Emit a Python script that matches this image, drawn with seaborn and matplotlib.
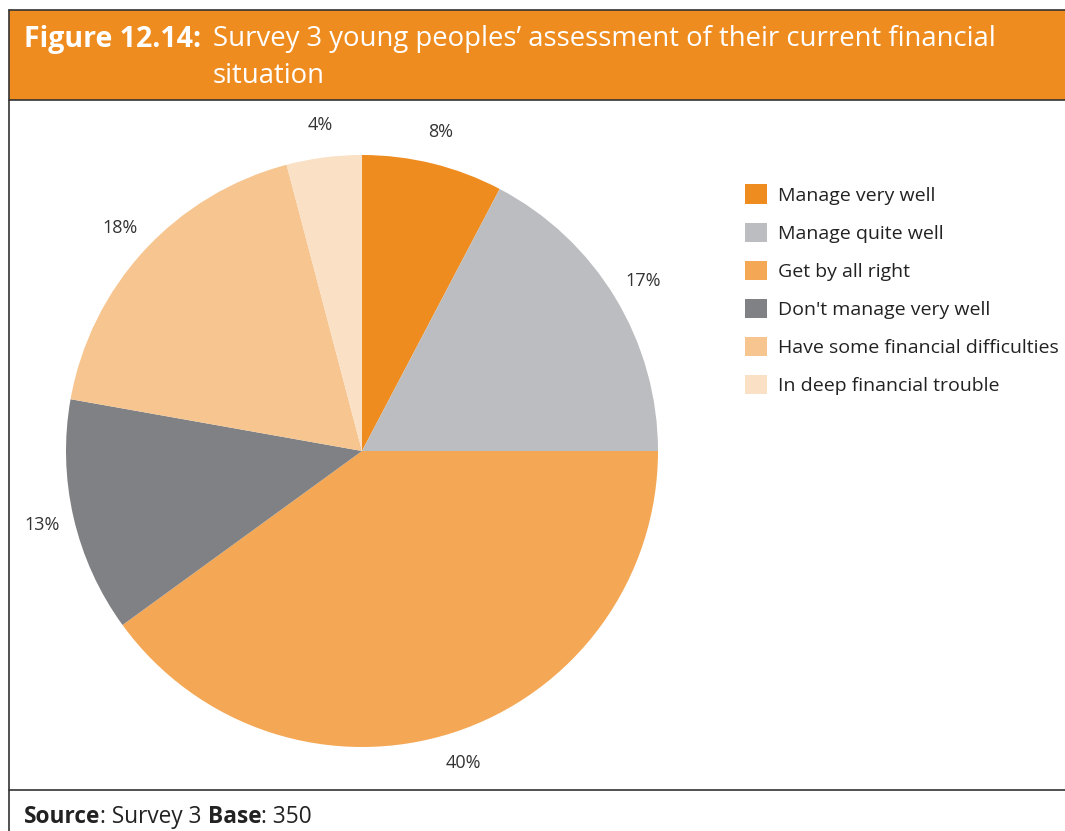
import matplotlib
matplotlib.use("Agg")
import matplotlib.pyplot as plt
import seaborn as sns
from matplotlib.lines import Line2D
from matplotlib.patches import Rectangle

# chart data (shares, labels are rounded)
categories = ["Manage very well", "Manage quite well", "Get by all right",
              "Don't manage very well", "Have some financial difficulties",
              "In deep financial trouble"]
percent = [7.7, 17.3, 40.0, 12.8, 18.1, 4.1]
colours = ["#EF8C1F", "#BCBDC0", "#F4A855", "#808184", "#F7C58F", "#FAE0C5"]

sns.set_theme(style="white")
plt.rcParams["font.family"] = ["Open Sans", "DejaVu Sans"]

W, H = 1065, 831
fig = plt.figure(figsize=(W / 100, H / 100), dpi=100)

def fx(px):
    return px / W

def fy(py):
    return 1 - py / H

# frame and header band
fig.patches.append(Rectangle((fx(9), fy(100)), fx(1065) - fx(9), fy(10) - fy(100),
                             transform=fig.transFigure, facecolor="#EF8C1F",
                             edgecolor="none", zorder=0))
for (x0, y0, x1, y1) in [(9, 10, 1065, 10), (9, 100, 1065, 100),
                         (9, 10, 9, 831), (9, 790, 1065, 790)]:
    fig.add_artist(Line2D([fx(x0), fx(x1)], [fy(y0), fy(y1)],
                          transform=fig.transFigure, color="#333333", lw=1.2))

# title
fig.text(fx(24), fy(39), "Figure 12.14:", color="white", fontsize=20.5,
         fontweight="bold", va="center", ha="left")
fig.text(fx(213), fy(39), "Survey 3 young peoples\u2019 assessment of their current financial",
         color="white", fontsize=19.8, va="center", ha="left")
fig.text(fx(213), fy(76), "situation", color="white", fontsize=19.8,
         va="center", ha="left")

# pie
R = 296
cx, cy = 362, 451
lim = 1.3
ax = fig.add_axes([fx(cx - lim * R), fy(cy + lim * R),
                   2 * lim * R / W, 2 * lim * R / H])
ax.pie(percent, colors=colours, startangle=90, counterclock=False,
       autopct="%.0f%%", pctdistance=1.11,
       textprops=dict(fontsize=13, color="#333333"),
       wedgeprops=dict(linewidth=0))
ax.set_xlim(-lim, lim)
ax.set_ylim(-lim, lim)
ax.set_aspect("equal")
ax.axis("off")

# legend
handles = [Rectangle((0, 0), 1, 1, facecolor=c, edgecolor="none") for c in colours]
fig.legend(handles, categories, loc="upper left",
           bbox_to_anchor=(fx(727), fy(167)), frameon=False, fontsize=14,
           handlelength=1.15, handleheight=1.15, handletextpad=0.55,
           labelspacing=0.92, labelcolor="#222222")

# source line
fig.canvas.draw()
r = fig.canvas.get_renderer()
x = fx(24)
for txt, bold in [("Source", True), (": Survey 3 ", False), ("Base", True), (": 350", False)]:
    t = fig.text(x, fy(817), txt, fontsize=16.3, va="center", ha="left",
                 color="#222222", fontweight="bold" if bold else "normal")
    bb = t.get_window_extent(renderer=r)
    x += bb.width / W

fig.savefig("out.png", dpi=100)
